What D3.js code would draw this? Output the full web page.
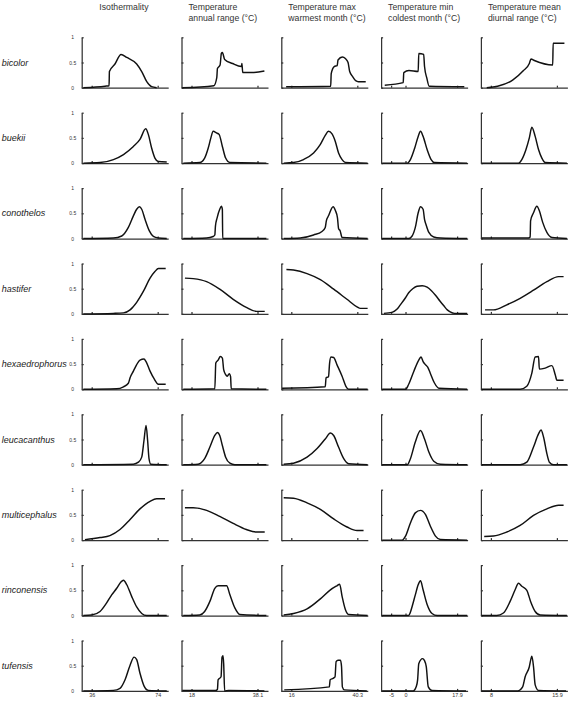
<!DOCTYPE html>
<html>
<head>
<meta charset="utf-8">
<script src="https://cdn.jsdelivr.net/npm/d3@7"></script>
<style>
body { margin: 0; background: #fff; }
svg { display: block; font-family: "Liberation Sans", Arial, sans-serif; }
.axis path, .axis line { stroke: #333; stroke-width: 1.25; fill: none; }
.axis text { fill: #333; font-family: "Liberation Sans", Arial, sans-serif; }
.curve { fill: none; stroke: #111; stroke-width: 1.45; stroke-linejoin: round; }
.title { font-size: 8.7px; fill: #333; }
.species { font-size: 9px; font-style: italic; fill: #222; }
</style>
</head>
<body>
<div id="chart"></div>
<script>
// rows and columns
var species = ["bicolor", "buekii", "conothelos", "hastifer", "hexaedrophorus",
  "leucacanthus", "multicephalus", "rinconensis", "tufensis"]
var variables = [
  ["Isothermality"],
  ["Temperature", "annual range (\u00b0C)"],
  ["Temperature max", "warmest month (\u00b0C)"],
  ["Temperature min", "coldest month (\u00b0C)"],
  ["Temperature mean", "diurnal range (\u00b0C)"]
]
var xTicks = [[36, 74], [18, 38.1], [16, 40.3], [-5, 0, 17.9], [8, 15.9]]
var yTicks = [0, 0.5, 1]

// response curves, [value, probability], one list per variable
var bicolor = [
  [[31.2,0],[43.7,0.03],[46.0,0.04],[46.2,0.32],[49.4,0.47],[52.9,0.66],[56.2,0.6],[61.9,0.47],[64.8,0.32],[67.7,0.12],[70.5,0.02],[73.4,0]],
  [[15.2,0],[24.8,0.04],[25.7,0.2],[25.9,0.38],[26.7,0.45],[27.1,0.68],[27.4,0.7],[28.1,0.56],[30.5,0.48],[33.2,0.42],[33.35,0.48],[33.6,0.3],[36.5,0.3],[40.2,0.33]],
  [[14.1,0.02],[30.5,0.03],[30.7,0.28],[31.8,0.42],[32.9,0.44],[33.2,0.55],[34.8,0.61],[35.9,0.58],[36.9,0.5],[37.5,0.32],[38.6,0.22],[39.7,0.14],[40.7,0.12],[43.4,0.12]],
  [[-7.2,0.05],[-0.8,0.1],[-0.6,0.3],[1.2,0.34],[4.4,0.32],[4.6,0.68],[6.3,0.66],[6.6,0.42],[7.4,0.19],[8.2,0.03],[20.4,0.02]],
  [[7.5,0],[8.8,0.03],[10.6,0.15],[11.9,0.34],[12.6,0.48],[12.8,0.57],[13.2,0.54],[15.4,0.45],[15.45,0.88],[16.8,0.88]]
]
var buekii = [
  [[31.2,0],[40.8,0.01],[48.5,0.07],[54.3,0.17],[60.0,0.33],[63.8,0.47],[67.1,0.68],[68.6,0.57],[70.5,0.3],[72.4,0.1],[74.4,0.03],[79.2,0.02]],
  [[15.5,0],[20.5,0.01],[22.0,0.1],[23.1,0.3],[23.9,0.5],[24.6,0.63],[25.6,0.6],[26.4,0.57],[27.4,0.33],[28.4,0.1],[29.7,0.01],[40.8,0]],
  [[13.2,0],[16.8,0.01],[20.5,0.07],[24.2,0.2],[26.7,0.37],[28.5,0.55],[29.7,0.63],[31.0,0.58],[32.2,0.43],[33.4,0.2],[34.7,0.07],[35.9,0.01],[44.1,0]],
  [[-8.1,0],[0.6,0],[1.7,0.07],[3.2,0.3],[4.4,0.53],[5.2,0.63],[6.1,0.53],[7.5,0.27],[8.9,0.07],[10.0,0.01],[21.4,0]],
  [[6.9,0],[11.3,0],[11.7,0.07],[12.2,0.27],[12.6,0.5],[12.9,0.71],[13.3,0.53],[13.7,0.27],[14.1,0.1],[14.5,0.01],[17.1,0]]
]
var conothelos = [
  [[31.2,0],[48.5,0.01],[53.3,0.05],[57.1,0.22],[60.0,0.45],[61.9,0.58],[63.5,0.63],[64.8,0.58],[66.7,0.38],[69.2,0.15],[71.5,0.04],[74.4,0.01],[79.2,0]],
  [[15.5,0],[22.6,0.01],[24.6,0.04],[25.1,0.07],[25.3,0.25],[25.8,0.41],[26.6,0.58],[27.1,0.64],[27.4,0.58],[27.5,0],[40.8,0]],
  [[13.2,0],[19.3,0.01],[24.2,0.07],[27.3,0.14],[28.5,0.22],[28.9,0.35],[29.7,0.45],[31.4,0.63],[32.2,0.56],[33.0,0.41],[33.4,0.2],[34.0,0.15],[34.7,0.02],[44.1,0]],
  [[-8.1,0],[1.1,0],[2.3,0.05],[3.4,0.22],[4.4,0.51],[5.2,0.63],[6.1,0.58],[6.6,0.38],[7.1,0.28],[8.1,0.12],[9.8,0.03],[12.1,0.01],[21.4,0]],
  [[6.9,0.01],[12.5,0.01],[12.7,0.03],[12.75,0.35],[13.1,0.51],[13.5,0.64],[13.8,0.55],[14.2,0.32],[14.7,0.12],[15.3,0.02],[17.1,0]]
]
var hastifer = [
  [[31.2,0],[48.5,0.01],[54.3,0.02],[58.1,0.08],[61.9,0.23],[65.8,0.45],[69.6,0.71],[72.4,0.84],[74.4,0.9],[78.6,0.9]],
  [[16.0,0.71],[18.5,0.7],[22.6,0.64],[26.6,0.49],[30.7,0.29],[34.7,0.13],[37.8,0.05],[40.3,0.05]],
  [[14.2,0.88],[16.8,0.87],[21.8,0.8],[26.7,0.68],[31.6,0.49],[36.5,0.29],[40.2,0.14],[41.4,0.11],[44.1,0.11]],
  [[-7.5,0.01],[-4.7,0.03],[-3.0,0.09],[-1.8,0.18],[0,0.32],[1.1,0.42],[2.5,0.5],[4.0,0.55],[5.8,0.56],[7.5,0.53],[9.0,0.46],[10.4,0.37],[12,0.25],[13.3,0.16],[14.5,0.08],[15.5,0.04],[17,0.01],[21.4,0.01]],
  [[7.3,0.08],[8.3,0.08],[9.9,0.18],[11.5,0.31],[13.1,0.47],[14.7,0.64],[16.1,0.74],[16.7,0.74]]
]
var hexaedrophorus = [
  [[31.2,0],[50.4,0.01],[54.3,0.05],[57.1,0.12],[58.1,0.23],[60.0,0.36],[61.9,0.49],[63.8,0.58],[66.1,0.6],[67.3,0.55],[69.6,0.36],[71.9,0.21],[74.4,0.1],[78.6,0.1]],
  [[15.5,0],[25.1,0.01],[25.4,0.52],[26.1,0.58],[26.8,0.65],[27.4,0.62],[27.8,0.39],[28.4,0.29],[28.9,0.26],[29.5,0.31],[29.9,0.25],[30.1,0.01],[40.8,0]],
  [[12.6,0.02],[28.5,0.05],[28.8,0.23],[29.7,0.25],[30.1,0.52],[30.6,0.64],[31.6,0.63],[32.8,0.49],[34.7,0.26],[36.1,0.06],[37.1,0],[44.1,0]],
  [[-8.1,0],[0.0,0],[1.1,0.1],[2.9,0.36],[4.6,0.58],[5.4,0.64],[6.1,0.55],[6.9,0.49],[7.7,0.44],[8.6,0.32],[10.0,0.13],[11.6,0.02],[21.4,0]],
  [[6.9,0],[11.5,0],[12.3,0.06],[12.9,0.32],[13.3,0.64],[13.7,0.65],[13.8,0.4],[14.5,0.42],[15.3,0.47],[15.7,0.29],[15.9,0.18],[16.7,0.18]]
]
var leucacanthus = [
  [[31.2,0],[60.0,0.01],[62.9,0.05],[64.8,0.15],[66.1,0.48],[67.3,0.78],[68.2,0.48],[69.0,0.12],[70.0,0.01],[79.2,0]],
  [[15.5,0],[20.0,0.01],[22.0,0.12],[23.6,0.35],[25.1,0.58],[25.9,0.64],[26.6,0.58],[27.4,0.38],[28.4,0.15],[29.7,0.03],[31.2,0],[40.8,0]],
  [[13.2,0.01],[16.8,0.03],[21.8,0.15],[25.5,0.32],[28.5,0.51],[30.4,0.63],[31.6,0.58],[33.4,0.35],[35.3,0.12],[37.1,0.02],[44.1,0]],
  [[-8.1,0],[0.6,0],[1.7,0.12],[3.4,0.45],[5.2,0.68],[6.6,0.51],[8.1,0.25],[9.8,0.07],[12.1,0.01],[21.4,0]],
  [[6.9,0],[11.5,0],[12.3,0.05],[13.1,0.35],[13.7,0.61],[14.0,0.69],[14.3,0.55],[14.7,0.22],[15.0,0.05],[15.5,0],[17.1,0]]
]
var multicephalus = [
  [[32.1,0.01],[40.8,0.05],[46.5,0.09],[52.3,0.21],[58.1,0.41],[63.8,0.62],[69.6,0.77],[73.4,0.82],[78.2,0.82]],
  [[16.0,0.64],[18.5,0.64],[22.6,0.59],[26.6,0.47],[30.7,0.33],[34.7,0.21],[37.8,0.16],[40.3,0.16]],
  [[13.2,0.84],[16.8,0.83],[21.8,0.74],[26.7,0.61],[31.6,0.42],[36.5,0.26],[40.2,0.19],[42.6,0.19]],
  [[-8.1,0],[-1.2,0],[0.0,0.08],[1.7,0.34],[3.4,0.54],[5.2,0.59],[6.9,0.51],[8.6,0.28],[10.4,0.08],[12.1,0.01],[21.4,0]],
  [[7.2,0.07],[8.3,0.08],[9.9,0.16],[11.5,0.29],[13.1,0.49],[14.7,0.62],[16.1,0.69],[16.7,0.69]]
]
var rinconensis = [
  [[31.2,0],[36.0,0.01],[40.8,0.08],[44.6,0.25],[47.5,0.41],[50.4,0.54],[52.7,0.66],[54.3,0.7],[56.2,0.61],[59.0,0.38],[61.9,0.17],[64.8,0.04],[67.7,0],[79.2,0]],
  [[15.5,0],[20.5,0.01],[22.0,0.08],[23.6,0.28],[25.1,0.54],[26.1,0.59],[28.7,0.59],[29.7,0.41],[31.2,0.15],[32.7,0.02],[40.8,0]],
  [[13.2,0.01],[16.8,0.04],[21.8,0.13],[26.7,0.33],[30.4,0.51],[32.8,0.59],[33.8,0.62],[34.7,0.38],[35.9,0.12],[37.1,0.02],[44.1,0]],
  [[-8.1,0],[1.1,0],[1.6,0.05],[2.3,0.18],[3.4,0.41],[4.4,0.61],[5.2,0.69],[6.1,0.51],[7.5,0.22],[9.2,0.04],[11.0,0],[21.4,0]],
  [[6.9,0],[8.7,0],[9.5,0.05],[10.3,0.28],[10.9,0.51],[11.3,0.64],[11.7,0.58],[12.3,0.5],[12.75,0.28],[13.3,0.08],[13.9,0.01],[17.1,0]]
]
var tufensis = [
  [[31.2,0],[48.5,0.01],[52.3,0.05],[55.2,0.22],[58.1,0.51],[60.4,0.67],[61.9,0.62],[63.8,0.35],[66.1,0.1],[68.6,0.01],[79.2,0]],
  [[15.2,0.01],[25.3,0.01],[25.9,0.03],[26.1,0.22],[27.0,0.28],[27.3,0.67],[27.6,0.7],[27.8,0.54],[28.1,0],[29.3,0.01],[40.2,0]],
  [[13.4,0.02],[30.0,0.08],[30.3,0.22],[31.4,0.25],[32.1,0.28],[32.5,0.58],[33.2,0.61],[34.1,0.61],[34.5,0.48],[34.8,0.08],[35.5,0.02],[43.8,0]],
  [[-8.1,0],[2.7,0],[3.7,0.08],[4.2,0.22],[4.6,0.54],[5.9,0.64],[6.6,0.6],[7.2,0.48],[7.9,0.08],[9.2,0.01],[21.0,0]],
  [[6.9,0],[11.2,0],[11.8,0.08],[12.1,0.28],[12.6,0.48],[12.8,0.64],[12.9,0.69],[13.1,0.48],[13.3,0.12],[13.7,0.01],[17.0,0]]
]
var curves = [bicolor, buekii, conothelos, hastifer, hexaedrophorus,
  leucacanthus, multicephalus, rinconensis, tufensis]

// layout
var w = 582
var h = 701
var left0 = 81.7, colStep = 99.8, pw = 86.5
var bottom0 = 87.7, rowStep = 75.4, ph = 50.4
var tickIn = 10, tickOut = 76   // where first/last tick sit inside a panel

var svg = d3.select("#chart").append("svg")
  .attr("width", w)
  .attr("height", h)

var yScale = d3.scaleLinear().domain([0, 1]).range([ph, 0])

// one x scale per column, axis line spans the whole panel
var xScales = xTicks.map(function(t) {
  var s = d3.scaleLinear().domain([t[0], t[t.length - 1]]).range([tickIn, tickOut])
  return s.copy().domain([s.invert(0), s.invert(pw)]).range([0, pw])
})

// column titles
variables.forEach(function(lines, c) {
  var tx = c == 0 ? left0 + 17.6 : left0 + c * colStep + 7
  var t = svg.append("text").attr("class", "title").attr("x", tx).attr("y", 10)
  lines.forEach(function(l, i) {
    t.append("tspan").attr("x", tx).attr("dy", i == 0 ? 0 : 10.5).text(l)
  })
})

// species labels
svg.selectAll(".species").data(species).enter()
  .append("text")
  .attr("class", "species")
  .attr("x", 1.7)
  .attr("y", (d, i) => bottom0 + i * rowStep - ph / 2)
  .attr("dy", "0.35em")
  .text(d => d)

var line = d3.line().curve(d3.curveMonotoneX)

species.forEach(function(sp, r) {
  variables.forEach(function(v, c) {
    var x = xScales[c]
    var g = svg.append("g")
      .attr("transform", "translate(" + (left0 + c * colStep) + "," + (bottom0 + r * rowStep - ph) + ")")

    var xAxis = d3.axisBottom(x)
      .tickValues(xTicks[c])
      .tickSizeInner(-2)
      .tickSizeOuter(0)
      .tickPadding(2.6)
      .tickFormat(r == species.length - 1 ? (d => d) : "")
    var gx = g.append("g")
      .attr("class", "axis")
      .attr("transform", "translate(0," + ph + ")")
      .call(xAxis)
    gx.selectAll("text").style("font-size", "5.4px")

    var yAxis = d3.axisLeft(yScale)
      .tickValues(yTicks)
      .tickSizeInner(-2)
      .tickSizeOuter(0)
      .tickFormat(c == 0 ? (d => d) : "")
    var gy = g.append("g").attr("class", "axis").call(yAxis)
    gy.selectAll("text")
      .attr("text-anchor", "middle")
      .attr("x", -9)
      .style("font-size", "5px")

    line.x(d => x(d[0])).y(d => yScale(d[1]))
    g.append("path")
      .attr("class", "curve")
      .attr("d", line(curves[r][c]))
  })
})
</script>
</body>
</html>
